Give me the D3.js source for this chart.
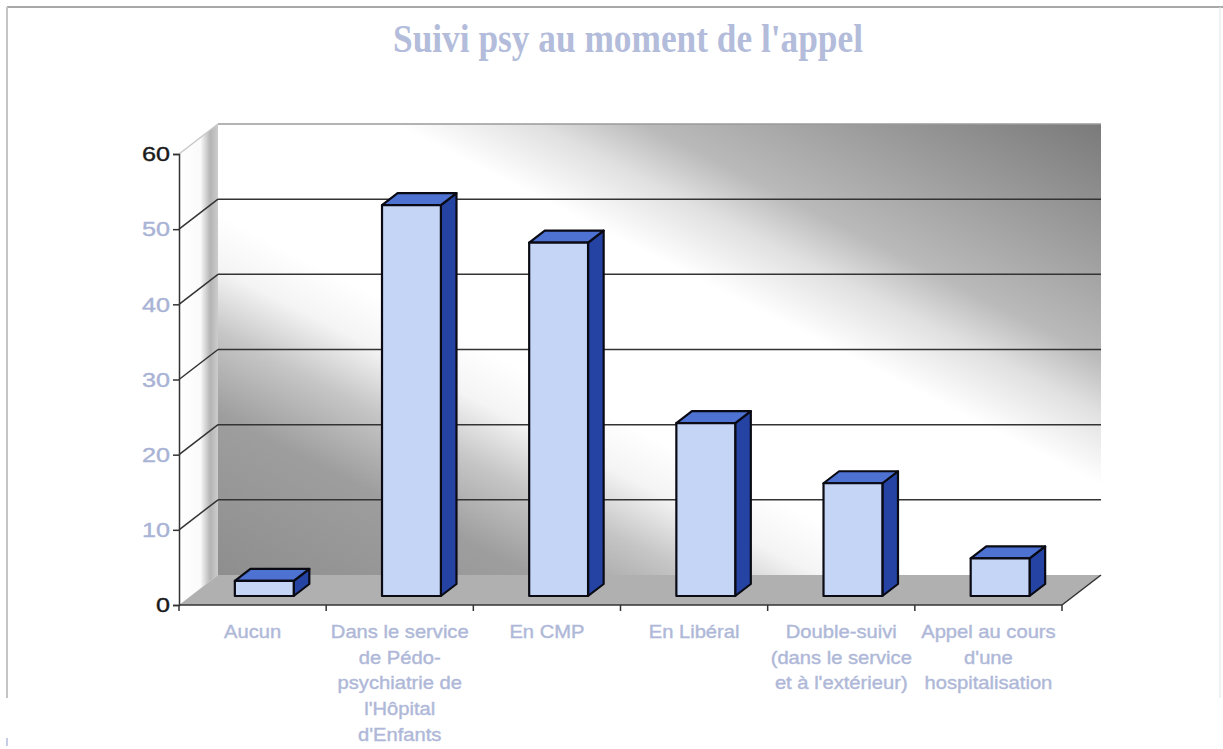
<!DOCTYPE html>
<html>
<head>
<meta charset="utf-8">
<script src="https://cdn.jsdelivr.net/npm/d3@7"></script>
<style>
  body { margin: 0; background: #fff; }
</style>
</head>
<body>
<div id="chart"></div>
<script>
var categories = ["Aucun", "Dans le service de Pédo-psychiatrie de l'Hôpital d'Enfants", "En CMP",
                  "En Libéral", "Double-suivi (dans le service et à l'extérieur)", "Appel au cours d'une hospitalisation"];
var labelLines = [
    ["Aucun"],
    ["Dans le service", "de Pédo-", "psychiatrie de", "l'Hôpital", "d'Enfants"],
    ["En CMP"],
    ["En Libéral"],
    ["Double-suivi", "(dans le service", "et à l'extérieur)"],
    ["Appel au cours", "d'une", "hospitalisation"]
];
var values = [2, 52, 47, 23, 15, 5];
var yTicks = [0, 10, 20, 30, 40, 50, 60];
var title = "Suivi psy au moment de l'appel";

function init(){
    var w = 1223, h = 749;
    var DX = 39, DY = 30;   // depth offset of the 3d box

    var x = d3.scaleBand().domain(categories).range([179, 1062]);
    var y = d3.scaleLinear().domain([0, 60]).range([605, 154]);

    // front-plane point pushed back by z (0..1)
    function proj(xf, v, z){
        return [xf + z*DX, y(v) - z*DY];
    }
    function pts(arr){
        return arr.map(function(p){ return p.join(","); }).join(" ");
    }

    var svg = d3.select("#chart").append("svg")
        .attr("width", w).attr("height", h);

    var defs = svg.append("defs");
    var wallGrad = defs.append("linearGradient").attr("id", "wall")
        .attr("x1", 0).attr("y1", 1).attr("x2", 1).attr("y2", 0);
    [[0, "#8e8e8e"], [0.18, "#9e9e9e"], [0.27, "#c6c6c6"], [0.34, "#f4f4f4"], [0.4, "#ffffff"],
     [0.6, "#ffffff"], [0.68, "#e0e0e0"], [0.74, "#bababa"], [0.86, "#9c9c9c"], [1, "#7a7a7a"]]
        .forEach(function(s){
            wallGrad.append("stop").attr("offset", s[0]).attr("stop-color", s[1]);
        });
    var sideGrad = defs.append("linearGradient").attr("id", "side")
        .attr("x1", 0).attr("y1", 0).attr("x2", 1).attr("y2", 0);
    [[0, "#ffffff"], [0.55, "#fafafa"], [0.8, "#b4b4b4"], [1, "#cccccc"]]
        .forEach(function(s){
            sideGrad.append("stop").attr("offset", s[0]).attr("stop-color", s[1]);
        });

    // frame
    svg.append("line").attr("x1", 7).attr("y1", 7).attr("x2", 1223).attr("y2", 7)
        .attr("stroke", "#a8a8a8").attr("stroke-width", 2);
    svg.append("line").attr("x1", 7).attr("y1", 7).attr("x2", 7).attr("y2", 698)
        .attr("stroke", "#c4c4c4").attr("stroke-width", 2);
    svg.append("line").attr("x1", 1220).attr("y1", 7).attr("x2", 1220).attr("y2", 698)
        .attr("stroke", "#e4e4e4").attr("stroke-width", 1);
    svg.append("line").attr("x1", 7).attr("y1", 738).attr("x2", 7).attr("y2", 746)
        .attr("stroke", "#b4bcd8").attr("stroke-width", 1.5);

    // title
    svg.append("text")
        .attr("x", 628).attr("y", 52)
        .attr("text-anchor", "middle")
        .attr("font-family", "'Liberation Serif', 'Times New Roman', serif")
        .attr("font-weight", "bold")
        .attr("font-size", 41)
        .attr("textLength", 470)
        .attr("lengthAdjust", "spacingAndGlyphs")
        .attr("fill", "#b3bcda")
        .text(title);

    var x0 = x.range()[0], x1 = x.range()[1];

    // back wall
    svg.append("polygon")
        .attr("points", pts([proj(x0, 60, 1), proj(x1, 60, 1), proj(x1, 0, 1), proj(x0, 0, 1)]))
        .attr("fill", "url(#wall)");
    // side wall
    svg.append("polygon")
        .attr("points", pts([proj(x0, 60, 0), proj(x0, 60, 1), proj(x0, 0, 1), proj(x0, 0, 0)]))
        .attr("fill", "url(#side)");
    // floor
    svg.append("polygon")
        .attr("points", pts([proj(x0, 0, 0), proj(x0, 0, 1), proj(x1, 0, 1), proj(x1, 0, 0)]))
        .attr("fill", "#b0b0b0");

    // top edge of wall
    svg.append("line")
        .attr("x1", proj(x0, 60, 1)[0]).attr("y1", proj(x0, 60, 1)[1])
        .attr("x2", proj(x1, 60, 1)[0]).attr("y2", proj(x1, 60, 1)[1])
        .attr("stroke", "#9a9a9a").attr("stroke-width", 1.5);

    // gridlines
    var grid = svg.append("g");
    grid.selectAll(".gb")
        .data(yTicks.filter(function(t){ return t > 0 && t < 60; }))
        .enter().append("line")
        .attr("x1", function(d){ return proj(x0, d, 1)[0]; })
        .attr("y1", function(d){ return proj(x0, d, 1)[1]; })
        .attr("x2", function(d){ return proj(x1, d, 1)[0]; })
        .attr("y2", function(d){ return proj(x1, d, 1)[1]; })
        .attr("stroke", "#333").attr("stroke-width", 1.5);
    grid.selectAll(".gs")
        .data(yTicks.filter(function(t){ return t > 0; }))
        .enter().append("line")
        .attr("x1", function(d){ return proj(x0, d, 0)[0]; })
        .attr("y1", function(d){ return proj(x0, d, 0)[1]; })
        .attr("x2", function(d){ return proj(x0, d, 1)[0]; })
        .attr("y2", function(d){ return proj(x0, d, 1)[1]; })
        .attr("stroke", function(d){ return d == 60 ? "#c8c8c8" : "#333"; })
        .attr("stroke-width", 1.5);

    // floor right edge
    svg.append("line")
        .attr("x1", proj(x1, 0, 0)[0]).attr("y1", proj(x1, 0, 0)[1])
        .attr("x2", proj(x1, 0, 1)[0]).attr("y2", proj(x1, 0, 1)[1])
        .attr("stroke", "#333").attr("stroke-width", 1.5);

    // bars
    var bw = x.bandwidth();
    var z0 = 0.3, z1 = 0.7;
    var bars = svg.selectAll(".bar")
        .data(values)
        .enter().append("g");
    bars.each(function(v, i){
        var g = d3.select(this);
        var xl = x(categories[i]) + bw*0.3, xr = xl + bw*0.4;
        g.append("polygon")
            .attr("points", pts([proj(xr, 0, z0), proj(xr, 0, z1), proj(xr, v, z1), proj(xr, v, z0)]))
            .attr("fill", "#2443a3");
        g.append("polygon")
            .attr("points", pts([proj(xl, v, z0), proj(xr, v, z0), proj(xr, v, z1), proj(xl, v, z1)]))
            .attr("fill", "#4d72d2");
        g.append("polygon")
            .attr("points", pts([proj(xl, 0, z0), proj(xr, 0, z0), proj(xr, v, z0), proj(xl, v, z0)]))
            .attr("fill", "#c4d5f6");
        g.selectAll("polygon")
            .attr("stroke", "#0a0a14").attr("stroke-width", 2.2)
            .attr("stroke-linejoin", "round");
    });

    // x axis
    var xAxisG = svg.append("g");
    xAxisG.append("line")
        .attr("x1", x0).attr("y1", y(0)).attr("x2", x1).attr("y2", y(0))
        .attr("stroke", "#333").attr("stroke-width", 1.5);
    xAxisG.selectAll(".xt")
        .data(d3.range(categories.length + 1))
        .enter().append("line")
        .attr("x1", function(d){ return x0 + d*bw; })
        .attr("x2", function(d){ return x0 + d*bw; })
        .attr("y1", y(0)).attr("y2", y(0) + 6)
        .attr("stroke", "#333").attr("stroke-width", 1.5);

    var lab = svg.append("g");
    labelLines.forEach(function(lines, i){
        var cx = x(categories[i]) + bw/2;
        lines.forEach(function(s, j){
            lab.append("text")
                .attr("transform", "translate(" + cx + "," + (638 + j*25.7) + ") scale(1.12,1)")
                .attr("text-anchor", "middle")
                .attr("font-family", "'Liberation Sans', Arial, sans-serif")
                .attr("font-size", 18)
                .attr("fill", "#afb8d8")
                .attr("stroke", "#afb8d8").attr("stroke-width", 0.4)
                .text(s);
        });
    });

    // y axis
    var yAxis = d3.axisLeft(y).tickValues(yTicks).tickSize(6).tickPadding(3);
    var yAxisG = svg.append("g")
        .attr("transform", "translate(" + x0 + ",0)")
        .call(yAxis);
    yAxisG.select(".domain").attr("stroke", "#333").attr("stroke-width", 1.5);
    yAxisG.selectAll(".tick line").attr("stroke", "#333").attr("stroke-width", 1.5);
    yAxisG.selectAll(".tick text")
        .attr("x", null)
        .attr("transform", "translate(-9,0) scale(1.2,1)")
        .attr("font-family", "'Liberation Sans', Arial, sans-serif")
        .attr("font-size", 21)
        .attr("fill", function(d){ return (d == 0 || d == 60) ? "#1a1a1a" : "#a9b3d5"; })
        .attr("stroke", function(d){ return (d == 0 || d == 60) ? "#1a1a1a" : "#a9b3d5"; })
        .attr("stroke-width", 0.4);
}
window.onload = init;
</script>
</body>
</html>
